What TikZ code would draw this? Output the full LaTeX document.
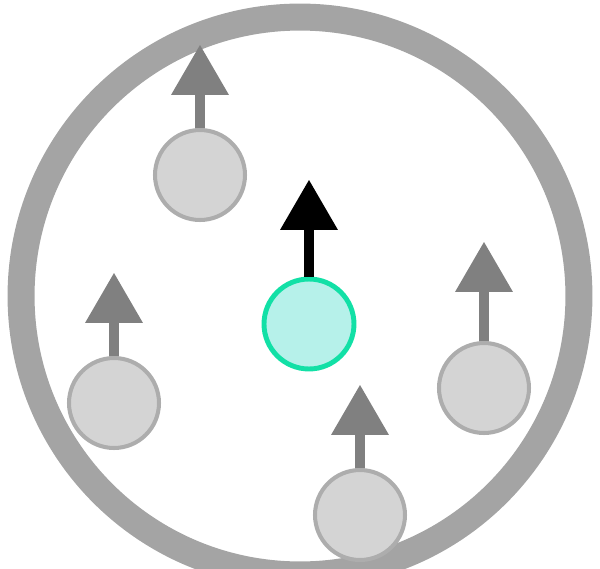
\documentclass[tikz,border=0pt]{standalone}
\usetikzlibrary{arrows.meta}
\definecolor{ringgray}{HTML}{A4A4A4}
\definecolor{arrowgray}{HTML}{808080}
\definecolor{partfill}{HTML}{D4D4D4}
\definecolor{partedge}{HTML}{ADADAD}
\definecolor{tracfill}{HTML}{B6F1EA}
\definecolor{tracedge}{HTML}{12E0A6}
\tikzset{
  particle/.style={circle,draw=partedge,fill=partfill,line width=2.3pt,minimum size=1.8cm,inner sep=0pt},
  tracer/.style={particle,draw=tracedge,fill=tracfill,line width=2.8pt},
  spin/.style={arrowgray,line width=6.2pt,-{Triangle[width=1.16cm,length=1cm,line width=0pt]}},
}
\begin{document}
\begin{tikzpicture}[x=0.02cm,y=-0.02cm]
  \useasboundingbox (0,0) rectangle (600,569);
  \clip (0,0) rectangle (600,569);
  % container
  \draw[ringgray,line width=0.54cm] (300,296) circle[radius=5.58cm];
  % particles
  \node[particle] (p1) at (200,175) {};
  \node[particle] (p2) at (114,403) {};
  \node[particle] (p3) at (484,388) {};
  \node[particle] (p4) at (360,515) {};
  \node[tracer] (p0) at (309,324) {};
  % spins
  \coordinate (t1) at (200,45);
  \coordinate (t2) at (114,273);
  \coordinate (t3) at (484,242);
  \coordinate (t4) at (360,385);
  \coordinate (t0) at (309,180);
  \draw[spin] (p1.north) -- (t1);
  \draw[spin] (p2.north) -- (t2);
  \draw[spin] (p3.north) -- (t3);
  \draw[spin] (p4.north) -- (t4);
  \draw[spin,black] (p0.north) -- (t0);
\end{tikzpicture}
\end{document}
